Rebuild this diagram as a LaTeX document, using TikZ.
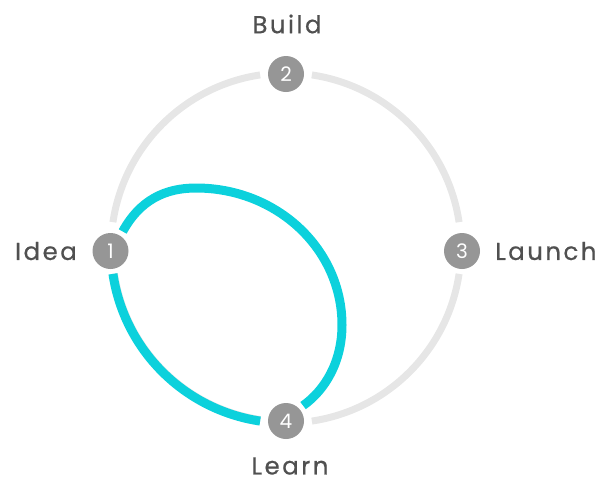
\documentclass[tikz,border=0pt]{standalone}
\usepackage{fontspec}
\setmainfont{Poppins}[LetterSpace=10,FakeBold=0.6]
\newfontfamily\numfont{Poppins}
\definecolor{ring}{HTML}{E6E6E6}
\definecolor{cyanl}{HTML}{0CD1DC}
\definecolor{dot}{HTML}{969696}
\definecolor{lbl}{HTML}{505050}
\begin{document}
\begin{tikzpicture}[x=1pt,y=-1pt,
  stepdot/.style={circle,fill=dot,minimum size=36pt,inner sep=0pt,outer sep=5pt,text=white,font=\numfont\fontsize{20}{20}\selectfont},
  lab/.style={text=lbl,font=\fontsize{24.5}{24.5}\selectfont,inner sep=0pt},
  ringline/.style={draw=ring,line width=7pt},
  loopline/.style={draw=cyanl,line width=9pt}]
\useasboundingbox (0,0) rectangle (616,485);
\coordinate (c) at (286,248);
% grey ring arcs (angles in flipped y system)
\draw[ringline] (c) ++(188.5:175) arc[start angle=188.5,end angle=261.5,radius=175];
\draw[ringline] (c) ++(-81.5:175) arc[start angle=-81.5,end angle=-8.5,radius=175];
\draw[ringline] (c) ++(8.5:175) arc[start angle=8.5,end angle=81.5,radius=175];
\draw[ringline,line width=8pt] (c) ++(98.5:174) arc[start angle=98.5,end angle=171.5,radius=174];
% nodes
\node[stepdot] (n1) at (110.5,251) {1};
\node[stepdot] (n2) at (286,74) {2};
\node[stepdot] (n3) at (462,251) {3};
\node[stepdot] (n4) at (286,421) {4};
% cyan
\draw[loopline] (c) ++(98.5:175) arc[start angle=98.5,end angle=171.5,radius=175];
\coordinate (t) at (196,188);
\coordinate (r) at (342,325);
\draw[loopline] (n1.58) .. controls (140,200) and (165,188) .. (t)
  .. controls (277,188) and (342,249) .. (r)
  .. controls (342,362) and (325,390) .. (n4.42);
% labels
\node[lab] (l2) at (287,24) {Build};
\node[lab,anchor=east] (l1) at (77,251) {Idea};
\node[lab,anchor=west] (l3) at (495,251) {Launch};
\node[lab] (l4) at (290,466) {Learn};
\end{tikzpicture}
\end{document}
